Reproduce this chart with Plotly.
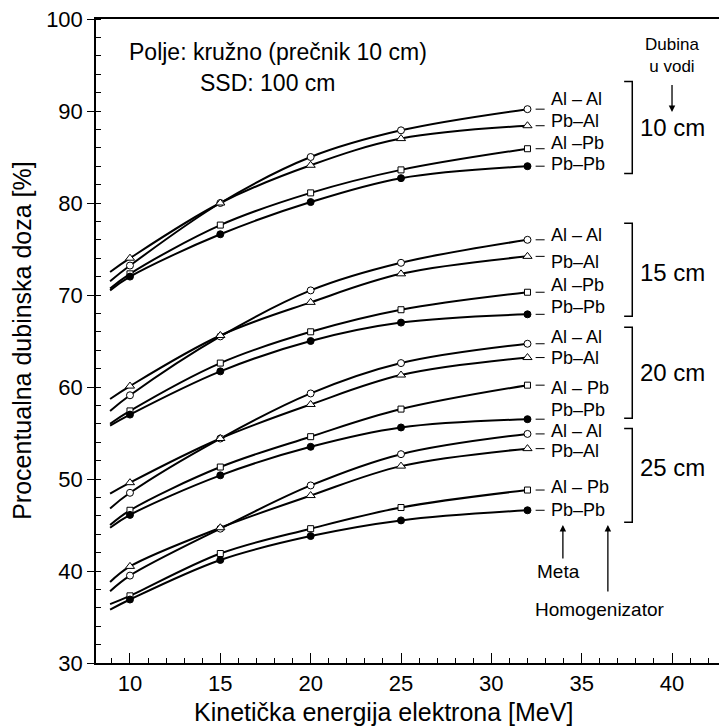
import plotly.graph_objects as go

# ---------------- data ----------------
energies = [10, 15, 20, 25, 32]          # MeV, marker positions
start_energy = 8.9                        # where the drawn curves begin

depth_labels = ["10 cm", "15 cm", "20 cm", "25 cm"]
combo_labels = {
    "10 cm": ["Al – Al", "Pb–Al", "Al –Pb", "Pb–Pb"],
    "15 cm": ["Al – Al", "Pb–Al", "Al –Pb", "Pb–Pb"],
    "20 cm": ["Al – Al", "Pb–Al", "Al – Pb", "Pb–Pb"],
    "25 cm": ["Al – Al", "Pb–Al", "Al – Pb", "Pb–Pb"],
}

# percent depth dose at energies (10,15,20,25,32 MeV)
d10_alal = [73.2, 80.0, 85.0, 87.9, 90.2]
d10_pbal = [74.0, 80.0, 84.1, 87.0, 88.4]
d10_alpb = [72.3, 77.6, 81.1, 83.6, 85.9]
d10_pbpb = [72.0, 76.6, 80.1, 82.7, 84.0]

d15_alal = [59.1, 65.5, 70.5, 73.5, 76.0]
d15_pbal = [60.1, 65.6, 69.2, 72.3, 74.2]
d15_alpb = [57.4, 62.6, 66.0, 68.4, 70.3]
d15_pbpb = [57.0, 61.7, 65.0, 67.0, 67.9]

d20_alal = [48.5, 54.4, 59.3, 62.6, 64.7]
d20_pbal = [49.6, 54.4, 58.1, 61.3, 63.2]
d20_alpb = [46.6, 51.3, 54.6, 57.6, 60.2]
d20_pbpb = [46.1, 50.4, 53.5, 55.6, 56.5]

d25_alal = [39.5, 44.6, 49.3, 52.7, 54.9]
d25_pbal = [40.5, 44.7, 48.2, 51.4, 53.3]
d25_alpb = [37.3, 41.9, 44.6, 46.9, 48.8]
d25_pbpb = [36.9, 41.2, 43.8, 45.5, 46.6]

# curve values at start_energy (Al-Al, Pb-Al, Al-Pb, Pb-Pb)
start_10 = [71.5, 72.5, 70.7, 70.5]
start_15 = [57.4, 58.7, 56.0, 55.8]
start_20 = [46.8, 48.4, 45.0, 44.7]
start_25 = [37.8, 38.8, 36.4, 35.8]

# label text heights (data units)
label_y_10 = [91.3, 88.9, 86.5, 84.2]
label_y_15 = [76.5, 73.6, 71.1, 68.7]
label_y_20 = [65.4, 63.2, 59.9, 57.5]
label_y_25 = [55.2, 53.0, 49.1, 46.6]

# bracket extents (top, bottom) and depth-label heights
bracket_10 = [93.2, 83.2]
bracket_15 = [77.8, 67.7]
bracket_20 = [66.5, 56.6]
bracket_25 = [55.5, 45.3]
depth_label_y = [88.2, 72.4, 61.6, 51.2]

x_ticks = [10, 15, 20, 25, 30, 35, 40]
y_ticks = [30, 40, 50, 60, 70, 80, 90, 100]

groups = [
    ([d10_alal, d10_pbal, d10_alpb, d10_pbpb], start_10, label_y_10, bracket_10),
    ([d15_alal, d15_pbal, d15_alpb, d15_pbpb], start_15, label_y_15, bracket_15),
    ([d20_alal, d20_pbal, d20_alpb, d20_pbpb], start_20, label_y_20, bracket_20),
    ([d25_alal, d25_pbal, d25_alpb, d25_pbpb], start_25, label_y_25, bracket_25),
]

marker_styles = [
    dict(symbol="circle", size=7, color="white", line=dict(color="black", width=1)),
    dict(symbol="triangle-up", size=8, color="white", line=dict(color="black", width=1)),
    dict(symbol="square", size=6, color="white", line=dict(color="black", width=1)),
    dict(symbol="circle", size=7, color="black", line=dict(color="black", width=1)),
]

FONT = "Liberation Sans, Arial, sans-serif"

fig = go.Figure()
annotations = []
shapes = []

for gi, (series, starts, label_ys, bracket) in enumerate(groups):
    depth = depth_labels[gi]
    for si, vals in enumerate(series):
        fig.add_trace(go.Scatter(
            x=[start_energy] + energies, y=[starts[si]] + vals,
            mode="lines", line=dict(color="black", width=2, shape="spline", smoothing=1.0),
            hoverinfo="skip", showlegend=False))
    for si, vals in enumerate(series):
        fig.add_trace(go.Scatter(
            x=energies, y=vals, mode="markers", marker=marker_styles[si],
            showlegend=False, name=f"{depth} {combo_labels[depth][si]}"))
        # leader dash after the last marker
        shapes.append(dict(type="line", xref="x", yref="y",
                           x0=energies[-1] + 0.45, x1=energies[-1] + 0.95,
                           y0=vals[-1], y1=vals[-1],
                           line=dict(color="black", width=1)))
        annotations.append(dict(x=33.2, y=label_ys[si], xref="x", yref="y",
                                text=combo_labels[depth][si], showarrow=False,
                                xanchor="left", yanchor="middle",
                                font=dict(family=FONT, size=18, color="black")))
    # bracket
    shapes.append(dict(type="path", xref="x", yref="y",
                       path=f"M 37.35 {bracket[0]} L 37.8 {bracket[0]} L 37.8 {bracket[1]} L 37.35 {bracket[1]}",
                       line=dict(color="black", width=1.5)))
    annotations.append(dict(x=38.1, y=depth_label_y[gi], xref="x", yref="y",
                            text=depth, showarrow=False, xanchor="left", yanchor="middle",
                            font=dict(family=FONT, size=24, color="black")))

# header texts
annotations += [
    dict(x=18.2, y=96.4, xref="x", yref="y", text="Polje: kružno (prečnik 10 cm)",
         showarrow=False, font=dict(family=FONT, size=23, color="black")),
    dict(x=17.64, y=93.0, xref="x", yref="y", text="SSD: 100 cm",
         showarrow=False, font=dict(family=FONT, size=23, color="black")),
    dict(x=40.0, y=96.0, xref="x", yref="y", text="Dubina<br>u vodi",
         showarrow=False, font=dict(family=FONT, size=17, color="black"), align="center"),
    dict(x=40.0, y=89.9, ax=40.0, ay=93.0, xref="x", yref="y", axref="x", ayref="y",
         text="", showarrow=True, arrowhead=2, arrowsize=1, arrowwidth=1.3, arrowcolor="black"),
    dict(x=33.96, y=45.0, ax=33.96, ay=41.2, xref="x", yref="y", axref="x", ayref="y",
         text="", showarrow=True, arrowhead=2, arrowsize=1, arrowwidth=1.3, arrowcolor="black"),
    dict(x=36.45, y=45.0, ax=36.45, ay=37.6, xref="x", yref="y", axref="x", ayref="y",
         text="", showarrow=True, arrowhead=2, arrowsize=1, arrowwidth=1.3, arrowcolor="black"),
    dict(x=33.7, y=40.0, xref="x", yref="y", text="Meta",
         showarrow=False, font=dict(family=FONT, size=19, color="black")),
    dict(x=36.0, y=35.8, xref="x", yref="y", text="Homogenizator",
         showarrow=False, font=dict(family=FONT, size=19, color="black")),
    # axis titles
    dict(x=-0.119, y=0.5016, xref="paper", yref="paper", text="Procentualna dubinska doza [%]",
         showarrow=False, textangle=-90, xanchor="center", yanchor="middle",
         font=dict(family=FONT, size=25, color="black")),
    dict(x=0.462, y=-0.076, xref="paper", yref="paper", text="Kinetička energija elektrona [MeV]",
         showarrow=False, xanchor="center", yanchor="middle",
         font=dict(family=FONT, size=25, color="black")),
]

fig.update_layout(
    width=719, height=728,
    margin=dict(l=96, r=0, t=19, b=65, autoexpand=False),
    plot_bgcolor="white", paper_bgcolor="white",
    font=dict(family=FONT, color="black"),
    annotations=annotations, shapes=shapes,
    xaxis=dict(range=[8.12, 42.6], tickvals=x_ticks, ticks="inside", ticklen=10, tickwidth=1.3,
               tickcolor="black", showline=True, linecolor="black", linewidth=1.5, mirror=True,
               showgrid=False, zeroline=False, tickfont=dict(family=FONT, size=22), automargin=False,
               minor=dict(dtick=1, ticks="inside", ticklen=5, tickwidth=1, tickcolor="black")),
    yaxis=dict(range=[30, 100], tickvals=y_ticks, ticks="outside", ticklen=7, tickwidth=1.3,
               tickcolor="black", showline=True, linecolor="black", linewidth=1.5, mirror=True,
               showgrid=False, zeroline=False, tickfont=dict(family=FONT, size=22), automargin=False,
               minor=dict(dtick=2, ticks="inside", ticklen=5, tickwidth=1, tickcolor="black")),
)

fig.write_html("out.html", config={"displayModeBar": False},
               post_script="document.body.style.margin='0';document.body.style.overflow='hidden';")
